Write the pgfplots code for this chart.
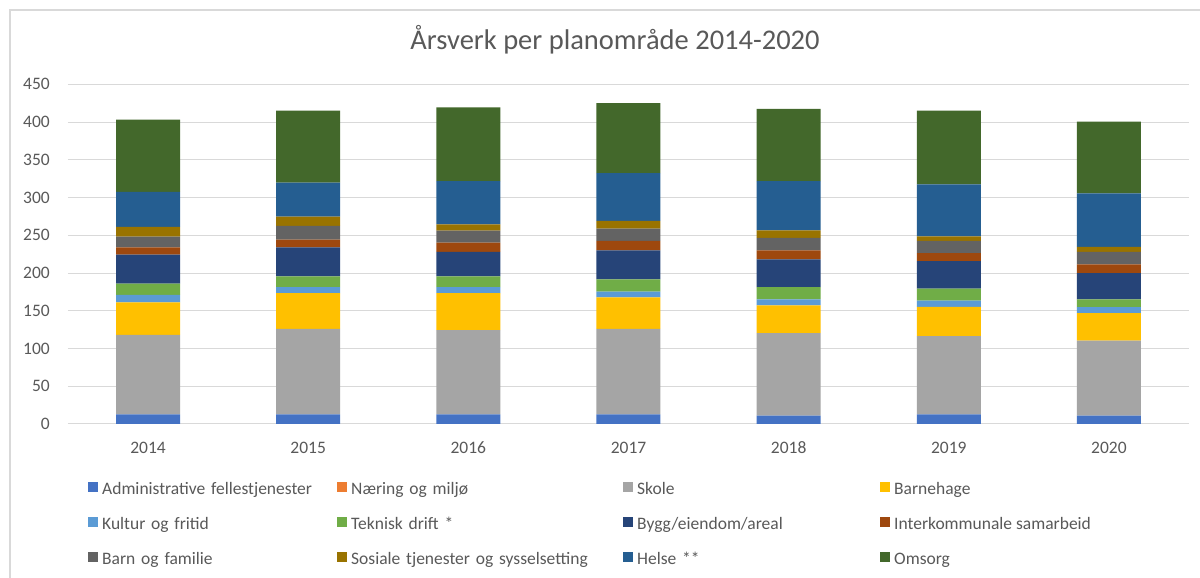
\documentclass[border=0pt]{standalone}
\usepackage{fontspec}
\setmainfont{Carlito}
\usepackage{pgfplots}
\usepackage{pgfplotstable}
\pgfplotsset{compat=1.18}
\definecolor{cA}{HTML}{4472C4}
\definecolor{cB}{HTML}{ED7D31}
\definecolor{cC}{HTML}{A5A5A5}
\definecolor{cD}{HTML}{FFC000}
\definecolor{cE}{HTML}{5B9BD5}
\definecolor{cF}{HTML}{70AD47}
\definecolor{cG}{HTML}{264478}
\definecolor{cH}{HTML}{9E480E}
\definecolor{cI}{HTML}{636363}
\definecolor{cJ}{HTML}{997300}
\definecolor{cK}{HTML}{255E91}
\definecolor{cL}{HTML}{43682B}
\definecolor{txt}{HTML}{595959}
\definecolor{gridc}{HTML}{D9D9D9}
\pgfplotstableread{
x Adm Nar Sko Bhg Kul Tek Byg Int Bar Sos Hel Oms
0 12.8 0 105.3 43.0 10.1 14.6 38.5 9.8 14.1 12.9 46.4 95.6
1 12.8 0 113.3 47.4 7.9 14.2 38.5 10.1 18.2 12.4 45.1 95.1
2 12.8 0 111.5 49.2 7.9 14.2 32.3 12.4 15.9 8.4 57.1 97.8
3 12.8 0 113.3 41.6 7.5 16.4 38.5 12.4 16.3 10.2 63.3 92.9
4 11.1 0 109.3 36.7 7.9 16.4 36.7 12.0 16.4 10.1 65.1 95.6
5 12.8 0 103.6 38.9 8.0 15.9 36.7 10.6 16.0 6.2 68.6 97.7
6 11.1 0 99.5 36.3 8.0 10.1 35.0 11.5 16.6 6.6 70.8 95.1
}\data
\tikzset{lt/.style={text height=12pt, text depth=4pt}}
\begin{document}
\begin{tikzpicture}
\useasboundingbox (0pt,0pt) rectangle (1200pt,578pt);
\fill[white] (0pt,0pt) rectangle (1200pt,578pt);
\draw[draw=gridc, line width=1.2pt] (10pt,0pt) -- (10pt,568pt) -- (1200pt,568pt);
\node[anchor=base, text=txt, font=\fontsize{28.5}{32}\selectfont] at (615pt,528pt) {Årsverk per planområde 2014-2020};
\begin{axis}[
  at={(68pt,154pt)}, anchor=south west,
  scale only axis, width=1121pt, height=339.7pt,
  ybar stacked, bar width=64pt,
  xmin=-0.5, xmax=6.5, ymin=0, ymax=450,
  xtick={0,...,6}, xticklabels={2014,2015,2016,2017,2018,2019,2020},
  ytick={0,50,...,450},
  ymajorgrids, grid style={draw=gridc, line width=1pt},
  axis line style={draw=none},
  major tick length=0pt,
  /pgf/number format/assume math mode=true,
  tick label style={font=\fontsize{17.5}{20}\selectfont, text=txt},
  yticklabel style={inner sep=0pt, xshift=-18pt},
  xticklabel style={inner sep=0pt, yshift=-17.5pt},
  legend columns=4,
  legend image code/.code={\path[#1] (0pt,-2.5pt) rectangle (10pt,7.5pt); \path (12pt,0pt);},
  legend style={at={(0.01784,-0.1663)}, anchor=north west, draw=none, fill=none,
    inner sep=0pt, font=\fontsize{17.5}{20}\selectfont, text=txt,
    column sep=0pt, row sep=17.5pt, cells={anchor=west},
    /tikz/column 2/.style={text width=233pt, lt},
    /tikz/column 4/.style={text width=270pt, lt},
    /tikz/column 6/.style={text width=241pt, lt},
    /tikz/column 8/.style={lt}},
]
\addplot[fill=cA, draw=none] table[x=x, y=Adm] {\data};
\addplot[fill=cB, draw=none] table[x=x, y=Nar] {\data};
\addplot[fill=cC, draw=none] table[x=x, y=Sko] {\data};
\addplot[fill=cD, draw=none] table[x=x, y=Bhg] {\data};
\addplot[fill=cE, draw=none] table[x=x, y=Kul] {\data};
\addplot[fill=cF, draw=none] table[x=x, y=Tek] {\data};
\addplot[fill=cG, draw=none] table[x=x, y=Byg] {\data};
\addplot[fill=cH, draw=none] table[x=x, y=Int] {\data};
\addplot[fill=cI, draw=none] table[x=x, y=Bar] {\data};
\addplot[fill=cJ, draw=none] table[x=x, y=Sos] {\data};
\addplot[fill=cK, draw=none] table[x=x, y=Hel] {\data};
\addplot[fill=cL, draw=none] table[x=x, y=Oms] {\data};
\legend{Administrative fellestjenester, Næring og miljø, Skole, Barnehage,
  Kultur og fritid, Teknisk drift *, Bygg/eiendom/areal, Interkommunale samarbeid,
  Barn og familie, Sosiale tjenester og sysselsetting, Helse **, Omsorg}
\end{axis}
\end{tikzpicture}
\end{document}
